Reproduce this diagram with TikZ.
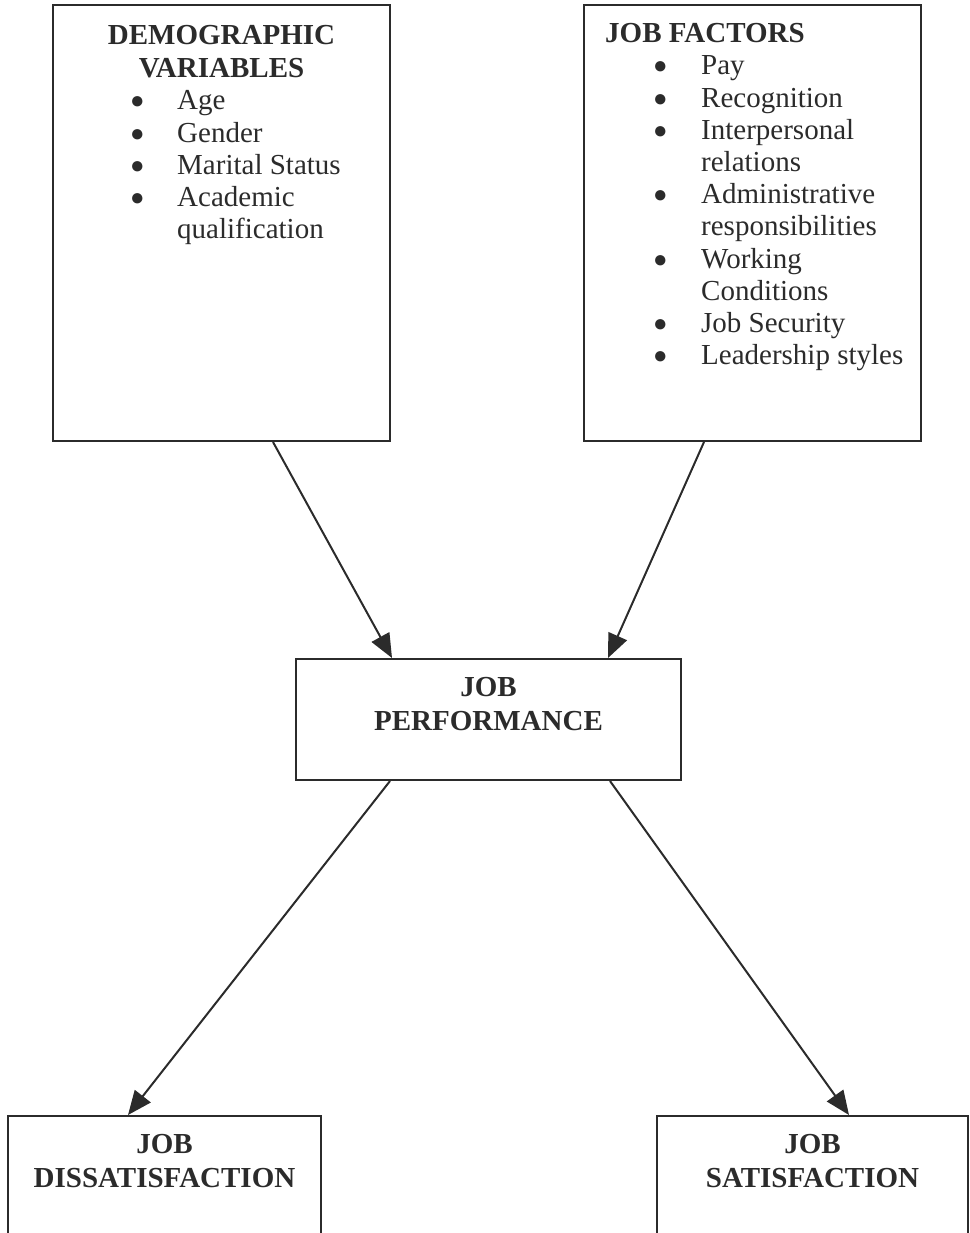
\documentclass[tikz,border=0pt]{standalone}
\usepackage{fontspec}
\setmainfont{Liberation Serif}
\usetikzlibrary{arrows.meta}
\newcommand{\diagfont}{\fontsize{29}{32.2}\selectfont}
\newcommand{\bul}{\raisebox{1pt}{\fontsize{24}{24}\selectfont\char"25CF}}

\begin{document}
\begin{tikzpicture}[x=1pt,y=-1pt,
    box/.style={draw=ink, line width=2pt, rectangle, inner sep=0pt},
    head/.style={font=\diagfont\bfseries, text=ink, inner sep=0pt, anchor=base},
    list/.style={font=\diagfont, text=ink, inner sep=0pt, anchor=base west},
    link/.style={draw=ink, line width=2pt, -{Triangle[length=24pt,width=20pt]}}]
    \definecolor{ink}{HTML}{2b2b2b}
    %\draw[help lines,step=100] (0,0) grid (969,1233);
    \clip (0,0) rectangle (969,1233);

    % inputs
    \node[box, minimum width=337pt, minimum height=436pt] (demo) at (221.5,223) {};
    \node[box, minimum width=337pt, minimum height=436pt] (factors) at (752.5,223) {};
    \node[head] (demotitle) at (221.5,45) {\begin{tabular}[t]{@{}c@{}}DEMOGRAPHIC\\VARIABLES\end{tabular}};
    \node[list] (demolist) at (130,110) {\begin{tabular}[t]{@{}p{47pt}@{}l@{}}
        \bul & Age\\
        \bul & Gender\\
        \bul & Marital Status\\
        \bul & Academic\\
             & qualification
    \end{tabular}};
    \node[head, anchor=base west] (factorstitle) at (605,43) {JOB FACTORS};
    \node[list] (factorslist) at (653,75) {\begin{tabular}[t]{@{}p{48pt}@{}l@{}}
        \bul & Pay\\
        \bul & Recognition\\
        \bul & Interpersonal\\
             & relations\\
        \bul & Administrative\\
             & responsibilities\\
        \bul & Working\\
             & Conditions\\
        \bul & Job Security\\
        \bul & Leadership styles
    \end{tabular}};

    % middle
    \node[box, minimum width=385pt, minimum height=121pt] (perf) at (488.5,719.5) {};
    \node[head] (perftitle) at (488.5,696) {\begin{tabular}[t]{@{}c@{}}JOB\\[2pt]PERFORMANCE\end{tabular}};

    % outcomes
    \node[box, minimum width=313pt, minimum height=200pt] (dissat) at (164.5,1216) {};
    \node[head] (dissattitle) at (164.5,1153) {\begin{tabular}[t]{@{}c@{}}JOB\\[2pt]DISSATISFACTION\end{tabular}};
    \node[box, minimum width=311pt, minimum height=200pt] (sat) at (812.5,1216) {};
    \node[head] (sattitle) at (812.5,1153) {\begin{tabular}[t]{@{}c@{}}JOB\\[2pt]SATISFACTION\end{tabular}};

    \draw[link] ([xshift=51.5pt]demo.south) -- ([xshift=-96.5pt]perf.north);
    \draw[link] ([xshift=-48.5pt]factors.south) -- ([xshift=119.5pt]perf.north);
    \draw[link] ([xshift=-98.5pt]perf.south) -- ([xshift=-36.5pt]dissat.north);
    \draw[link] ([xshift=121.5pt]perf.south) -- ([xshift=36.5pt]sat.north);
\end{tikzpicture}
\end{document}
